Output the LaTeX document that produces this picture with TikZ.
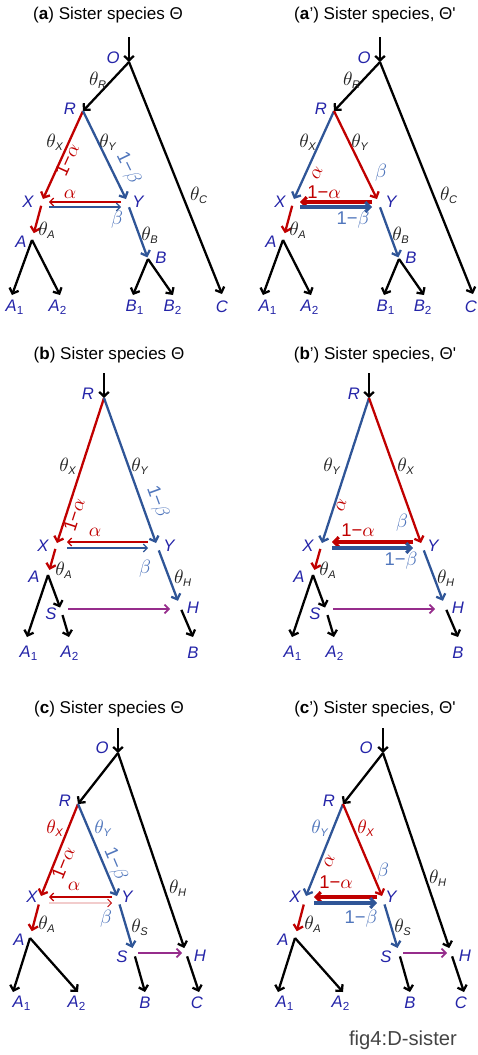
\documentclass[tikz,border=0pt]{standalone}
\usepackage{amsmath}
\usepackage{fontspec}
\setmainfont{Liberation Sans}
\usetikzlibrary{arrows.meta}
\usetikzlibrary{calc}

\definecolor{tred}{RGB}{192,0,0}
\definecolor{tblue}{RGB}{47,85,151}
\definecolor{lblue}{RGB}{80,118,188}
\definecolor{sblue}{RGB}{36,36,168}
\definecolor{tpurple}{RGB}{150,45,140}
\definecolor{tgray}{RGB}{35,35,35}

\newcommand{\thl}[1]{$\theta_{\text{\fontsize{6.3}{7}\selectfont\itshape #1}}$}
\newcommand{\ix}[2]{#1\textsubscript{\upshape #2}}
\newcommand{\oma}{1−$\alpha$}
\newcommand{\omb}{1−$\beta$}

\tikzset{
  br/.style={line width=1.3pt, -{Straight Barb[length=2.6pt,width=5.5pt]}},
  lnk/.style={line width=0.7pt, -{Straight Barb[length=2.2pt,width=4.5pt]}},
  flow/.style={line width=1.8pt, -{Straight Barb[length=2.6pt,width=5.5pt]}},
  rthin/.style={lnk, tred},
  bthin/.style={lnk, tblue},
  rthick/.style={flow, tred},
  bthick/.style={flow, tblue},
  rdbl/.style={lnk, line width=0.45pt, draw=tred, double=tred!20, double distance=0.7pt},
  hyb/.style={line width=1pt, tpurple, -{Straight Barb[length=2.4pt,width=5pt]}},
  sp/.style={inner sep=0pt, text=sblue, font=\fontsize{9.5}{11}\selectfont\itshape},
  th/.style={inner sep=0pt, text=tgray, font=\fontsize{11}{12}\selectfont},
  gl/.style={inner sep=0pt, font=\fontsize{10.5}{12}\selectfont},
  ttl/.style={inner sep=0pt, font=\fontsize{9.7}{11}\selectfont},
}

\begin{document}
\begin{tikzpicture}[x=0.02cm,y=-0.02cm]
\useasboundingbox (0,0) rectangle (477,1055);

% row (a), (a')
\foreach \s/\cl/\cr/\hu/\hl in {0/tred/tblue/rthin/bthin, 251/tblue/tred/rthick/bthick} {
  \begin{scope}[shift={(\s,0)}]
    \coordinate (top) at (129,37);
    \coordinate (O) at (129,62);
    \coordinate (R) at (83,111);
    \coordinate (X) at (43,199);
    \coordinate (Y) at (126,199);
    \coordinate (A) at (32,240);
    \coordinate (B) at (148,259);
    \coordinate (A1) at (12,295);
    \coordinate (A2) at (60,295);
    \coordinate (B1) at (133,295);
    \coordinate (B2) at (173,295);
    \coordinate (C) at (222,294);
    \draw[br] (top) -- (O);
    \draw[br] (O) -- (R);
    \draw[br] (O) -- (C);
    \draw[br, color=\cl] (R) -- (X);
    \draw[br, color=\cr] (R) -- (Y);
    \draw[br, tred, shorten <=4pt, shorten >=4pt] (X) -- (A);
    \draw[br, tblue, shorten <=5pt, shorten >=1pt] (Y) -- (B);
    \foreach \e in {A1,A2} \draw[br] (A) -- (\e);
    \foreach \e in {B1,B2} \draw[br] (B) -- (\e);
    \draw[\hu] ($(Y)+(-5,3)$) -- ($(X)+(6,3)$);
    \draw[\hl] ($(X)+(6,8)$) -- ($(Y)+(-5,8)$);
  \end{scope}
}

\node[ttl] (ta) at (108,15) {(\textbf{a}) Sister species Θ};
\foreach \nm/\x/\y/\tx in {O/113/58/O, R/70/109/R, X/28/202/X, Y/138/202/Y, A/21/242/A, B/161/258/B,
    A1/15/307/\ix{A}{1}, A2/58/307/\ix{A}{2}, B1/135/307/\ix{B}{1}, B2/173/307/\ix{B}{2}, C/222/307/C}
  \node[sp] (a\nm) at (\x,\y) {\tx};
\foreach \nm/\x/\y in {R/98/80, C/199/195, X/55/142, Y/108/142, A/47/230, B/150/235}
  \node[th] (at\nm) at (\x,\y) {\thl{\nm}};
\node[gl, tred, rotate=65.6] (aoma) at (67,160) {\oma};
\node[gl, lblue, rotate=-64] (aomb) at (128,168) {\omb};
\node[gl, tred] (aal) at (70,194) {$\alpha$};
\node[gl, lblue] (abe) at (117,220) {$\beta$};

\node[ttl] (tap) at (375,15) {(\textbf{a}’) Sister species, Θ\textquotesingle};
\foreach \nm/\x/\y/\tx in {O/364/58/O, R/321/109/R, X/280/202/X, Y/391/202/Y, A/271/242/A, B/411/258/B,
    A1/268/307/\ix{A}{1}, A2/310/307/\ix{A}{2}, B1/386/307/\ix{B}{1}, B2/423/307/\ix{B}{2}, C/471/307/C}
  \node[sp] (ap\nm) at (\x,\y) {\tx};
\foreach \nm/\x/\y in {R/352/80, C/449/195, X/308/142, Y/360/142, A/298/230, B/401/235}
  \node[th] (apt\nm) at (\x,\y) {\thl{\nm}};
\node[gl, tred, rotate=65.6] (apal) at (317,173) {$\alpha$};
\node[gl, lblue] (apbe) at (381,173) {$\beta$};
\node[gl, tred] (apoma) at (324,192) {\oma};
\node[gl, lblue] (apomb) at (353,220) {\omb};

% row (b), (b')
\foreach \s/\cl/\cr/\hu/\hl in {0/tred/tblue/rthin/bthin, 265/tblue/tred/rthick/bthick} {
  \begin{scope}[shift={(\s,0)}]
    \coordinate (top) at (104,373);
    \coordinate (R) at (104,398);
    \coordinate (X) at (57,543);
    \coordinate (Y) at (156,543);
    \coordinate (A) at (48,575);
    \coordinate (S) at (61,610);
    \coordinate (H) at (181,609);
    \coordinate (A1) at (27,637);
    \coordinate (A2) at (69,637);
    \coordinate (B) at (193,637);
    \draw[br] (top) -- (R);
    \draw[br, color=\cl] (R) -- (X);
    \draw[br, color=\cr] (R) -- (Y);
    \draw[br, tred, shorten <=3.5pt, shorten >=3pt] (X) -- (A);
    \draw[br, tblue, shorten <=4.5pt, shorten >=5pt] (Y) -- (H);
    \draw[br] (A) -- (A1);
    \draw[br, shorten >=1.5pt] (A) -- (S);
    \draw[br, shorten <=3pt] (S) -- (A2);
    \draw[br, shorten <=0.5pt] (H) -- (B);
    \draw[hyb] ($(S)+(7,-1)$) -- ($(H)+(-11,0)$);
    \draw[\hu] ($(Y)+(-8,-1)$) -- ($(X)+(10,-1)$);
    \draw[\hl] ($(X)+(10,5)$) -- ($(Y)+(-8,5)$);
  \end{scope}
}

\node[ttl] (tb) at (109,355) {(\textbf{b}) Sister species Θ};
\foreach \nm/\x/\y/\tx in {R/88/394/R, X/43/546/X, Y/169/546/Y, A/34/577/A, H/193/608/H, S/51/614/S,
    A1/29/653/\ix{A}{1}, A2/70/653/\ix{A}{2}, B/193/653/B}
  \node[sp] (b\nm) at (\x,\y) {\tx};
\foreach \nm/\x/\y in {X/68/466, Y/140/466, A/64/570, H/183/578}
  \node[th] (bt\nm) at (\x,\y) {\thl{\nm}};
\node[gl, tred, rotate=72] (boma) at (74,515) {\oma};
\node[gl, lblue, rotate=-70] (bomb) at (157,502) {\omb};
\node[gl, tred] (bal) at (95,532) {$\alpha$};
\node[gl, lblue] (bbe) at (145,569) {$\beta$};

\node[ttl] (tbp) at (375,355) {(\textbf{b}’) Sister species, Θ\textquotesingle};
\foreach \nm/\x/\y/\tx in {R/354/394/R, X/308/546/X, Y/433/546/Y, A/299/577/A, H/458/608/H, S/315/614/S,
    A1/293/653/\ix{A}{1}, A2/335/653/\ix{A}{2}, B/458/653/B}
  \node[sp] (bp\nm) at (\x,\y) {\tx};
\foreach \nm/\x/\y in {Y/332/466, X/406/466, A/328/570, H/446/578}
  \node[th] (bpt\nm) at (\x,\y) {\thl{\nm}};
\node[gl, tred, rotate=72] (bpal) at (341,505) {$\alpha$};
\node[gl, lblue] (bpbe) at (402,523) {$\beta$};
\node[gl, tred] (bpoma) at (358,530) {\oma};
\node[gl, lblue] (bpomb) at (401,561) {\omb};

% row (c), (c')
\foreach \s/\cl/\cr/\hu/\hl in {0/tred/tblue/rthin/rdbl, 265/tblue/tred/rthick/bthick} {
  \begin{scope}[shift={(\s,0)}]
    \coordinate (top) at (118,728);
    \coordinate (O) at (118,753);
    \coordinate (R) at (78,804);
    \coordinate (X) at (41,896);
    \coordinate (Y) at (117,896);
    \coordinate (A) at (30,938);
    \coordinate (S) at (134,953);
    \coordinate (H) at (186,953);
    \coordinate (A1) at (13,992);
    \coordinate (A2) at (78,992);
    \coordinate (B) at (145,992);
    \coordinate (C) at (199,992);
    \draw[br] (top) -- (O);
    \draw[br] (O) -- (R);
    \draw[br, shorten >=3pt] (O) -- (H);
    \draw[br, color=\cl] (R) -- (X);
    \draw[br, color=\cr] (R) -- (Y);
    \draw[br, tred, shorten <=5pt, shorten >=4pt] (X) -- (A);
    \draw[br, tblue, shorten <=5pt, shorten >=3pt] (Y) -- (S);
    \draw[br] (A) -- (A1);
    \draw[br] (A) -- (A2);
    \draw[br, shorten <=2pt] (S) -- (B);
    \draw[br, shorten <=2pt] (H) -- (C);
    \draw[hyb] ($(S)+(4,0)$) -- ($(H)+(-4,0)$);
    \draw[\hu] ($(Y)+(-5,1)$) -- ($(X)+(8,1)$);
    \draw[\hl] ($(X)+(8,7)$) -- ($(Y)+(-5,7)$);
  \end{scope}
}

\node[ttl] (tc) at (109,709) {(\textbf{c}) Sister species Θ};
\foreach \nm/\x/\y/\tx in {O/102/748/O, R/65/801/R, X/32/897/X, Y/127/897/Y, A/19/940/A, S/122/957/S, H/200/956/H,
    A1/22/1003/\ix{A}{1}, A2/77/1003/\ix{A}{2}, B/145/1003/B, C/197/1003/C}
  \node[sp] (c\nm) at (\x,\y) {\tx};
\foreach \nm/\x/\y in {H/178/888, A/47/924, S/140/927}
  \node[th] (ct\nm) at (\x,\y) {\thl{\nm}};
\node[th, text=tred] (ctX) at (55,828) {\thl{X}};
\node[th, text=lblue] (ctY) at (103,828) {\thl{Y}};
\node[gl, tred, rotate=68] (coma) at (63,863) {\oma};
\node[gl, lblue, rotate=-67] (comb) at (115,864) {\omb};
\node[gl, tred] (cal) at (74,886) {$\alpha$};
\node[gl, lblue] (cbe) at (106,919) {$\beta$};

\node[ttl] (tcp) at (375,709) {(\textbf{c}’) Sister species, Θ\textquotesingle};
\foreach \nm/\x/\y/\tx in {O/366/748/O, R/329/801/R, X/295/897/X, Y/391/897/Y, A/283/940/A, S/386/957/S, H/465/956/H,
    A1/285/1003/\ix{A}{1}, A2/341/1003/\ix{A}{2}, B/410/1003/B, C/461/1003/C}
  \node[sp] (cp\nm) at (\x,\y) {\tx};
\foreach \nm/\x/\y in {H/438/878, A/313/924, S/403/927}
  \node[th] (cpt\nm) at (\x,\y) {\thl{\nm}};
\node[th, text=lblue] (cptY) at (320,828) {\thl{Y}};
\node[th, text=tred] (cptX) at (366,828) {\thl{X}};
\node[gl, tred, rotate=68] (cpal) at (329,861) {$\alpha$};
\node[gl, lblue] (cpbe) at (383,872) {$\beta$};
\node[gl, tred] (cpoma) at (336,882) {\oma};
\node[gl, lblue] (cpomb) at (361,919) {\omb};

\node[inner sep=0pt, text=tgray!85, font=\fontsize{11.5}{13}\selectfont] (fig) at (403,1040) {fig4:D-sister};
\end{tikzpicture}
\end{document}
